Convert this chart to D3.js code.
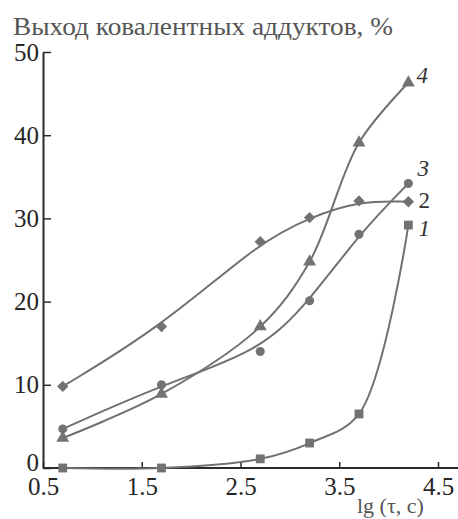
<!DOCTYPE html>
<html><head><meta charset="utf-8">
<script src="https://cdn.jsdelivr.net/npm/d3@7/dist/d3.min.js"></script>
<style>body{margin:0;background:#fff}svg{display:block}</style>
</head><body>
<script>
const lgT = [0.7, 1.7, 2.7, 3.2, 3.7, 4.2];
const series1 = [0, 0, 1.1, 3.0, 6.5, 29.2];   // squares
const series2 = [9.8, 17.0, 27.2, 30.1, 32.1, 32.0]; // diamonds
const series3 = [4.7, 10.0, 14.0, 20.1, 28.1, 34.2]; // circles
const series4 = [3.6, 8.9, 17.0, 24.8, 39.1, 46.3]; // triangles
const seriesLabels = ["1", "2", "3", "4"];
const xTicks = [0.5, 1.5, 2.5, 3.5, 4.5];
const yTicks = [0, 10, 20, 30, 40, 50];
const yTitle = "Выход ковалентных аддуктов, %";
const xTitle = "lg (τ, c)";

const W = 458, H = 519;
const FONT = '"Liberation Serif", Tinos, "Times New Roman", serif';
const svg = d3.select("body").append("svg").attr("width", W).attr("height", H);
const x = d3.scaleLinear().domain([0.5, 4.5]).range([43, 438]);
const y = d3.scaleLinear().domain([0, 50]).range([468, 52]);
const lineCol = "#717171", markCol = "#727272", axisCol = "#2a2a2a";

// axes
const gx = svg.append("g").attr("transform", `translate(0,${y(0)})`)
  .call(d3.axisBottom(x).tickValues(xTicks).tickFormat(d3.format(".1f")).tickSizeInner(-6).tickSizeOuter(0).tickPadding(9));
gx.select(".domain").attr("d", `M${x(0.5)},0H${W}`);
const gy = svg.append("g").attr("transform", `translate(${x(0.5)},0)`)
  .call(d3.axisLeft(y).tickValues(yTicks).tickSizeInner(-8).tickSizeOuter(0).tickPadding(4));
[gx, gy].forEach(g => {
  g.attr("font-family", FONT).attr("font-size", 25);
  g.select(".domain").attr("stroke", axisCol).attr("stroke-width", 2);
  g.selectAll(".tick line").attr("stroke", axisCol).attr("stroke-width", 1.5);
  g.selectAll("text").style("font-family", FONT).attr("font-size", 25).attr("fill", "#262626");
});
gy.selectAll(".tick").filter(d => d === 0).select("text").attr("dy", "0.1em");

// titles
svg.append("text").attr("x", 13).attr("y", 35).text(yTitle)
  .style("font-family", FONT).attr("font-size", 25).attr("fill", "#555")
  .attr("textLength", 380).attr("lengthAdjust", "spacingAndGlyphs");
svg.append("text").attr("x", 357).attr("y", 513).text(xTitle)
  .style("font-family", FONT).attr("font-size", 22).attr("fill", "#555");

const all = [series1, series2, series3, series4];
const curves = [d3.curveCatmullRom.alpha(0.5), d3.curveBasis, d3.curveBasis, d3.curveCatmullRom.alpha(0.5)];
all.forEach((s, k) => {
  const line = d3.line().x(d => x(d[0])).y(d => y(d[1])).curve(curves[k]);
  svg.append("path").datum(lgT.map((t, i) => [t, s[i]]))
    .attr("d", line).attr("fill", "none").attr("stroke", lineCol).attr("stroke-width", 2);
});

const symbols = [d3.symbolSquare, d3.symbolSquare, d3.symbolCircle, d3.symbolTriangle];
const sizes = [78, 64, 64, 72];
const rot = [0, 45, 0, 0];
all.forEach((s, k) => {
  svg.append("g").selectAll("path").data(lgT.map((t, i) => [t, s[i]])).join("path")
    .attr("transform", d => `translate(${x(d[0])},${y(d[1])}) rotate(${rot[k]})`)
    .attr("d", d3.symbol(symbols[k], sizes[k])).attr("fill", markCol);
});

// series labels near last points
const offs = [[10, 11], [10, 6], [9, -7], [8, 0]];
const italic = [true, false, true, true];
all.forEach((s, k) => {
  const n = s.length - 1;
  svg.append("text").attr("x", x(lgT[n]) + offs[k][0]).attr("y", y(s[n]) + offs[k][1])
    .text(seriesLabels[k]).style("font-family", FONT).attr("font-size", 23)
    .attr("font-style", italic[k] ? "italic" : "normal").attr("fill", "#333");
});
</script>
</body></html>
